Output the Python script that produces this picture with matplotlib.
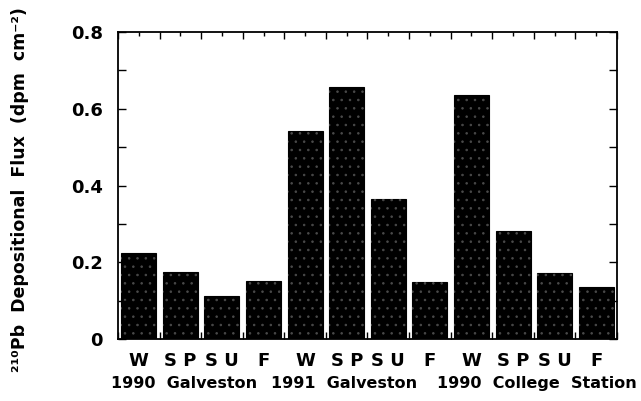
import matplotlib
matplotlib.use("Agg")
import matplotlib.pyplot as plt
import numpy as np

seasons = ["W", "S P", "S U", "F"] * 3
groups = ["1990  Galveston", "1991  Galveston", "1990  College  Station"]
flux = [0.224, 0.175, 0.112, 0.151,
        0.542, 0.656, 0.365, 0.149,
        0.636, 0.281, 0.172, 0.136]

plt.rcParams['font.family'] = 'DejaVu Sans'
plt.rcParams['font.weight'] = 'bold'
plt.rcParams['hatch.linewidth'] = 0.6

fig = plt.figure(figsize=(6.41, 4.01), dpi=100)
ax = fig.add_axes([0.184, 0.1546, 0.7786, 0.7656])

x = np.arange(len(flux))
ax.bar(x, flux, width=0.84, color='black', edgecolor='black', linewidth=0.8)
# sparse stipple on top of the black fill
ax.bar(x, flux, width=0.84, facecolor='none', edgecolor='#4a4a4a', hatch='..', linewidth=0)

ax.set_xlim(-0.5, 11.5)
ax.set_ylim(0, 0.8)
ax.set_yticks([0, 0.2, 0.4, 0.6, 0.8])
ax.set_yticklabels(["0", "0.2", "0.4", "0.6", "0.8"])
ax.set_yticks(np.arange(0.1, 0.8, 0.2), minor=True)
ax.tick_params(axis='y', which='both', direction='in', length=6, width=1,
               right=True, labelsize=13, pad=11)

ax.set_xticks(x)
ax.set_xticklabels(seasons, fontsize=13)
ax.set_xticks(np.arange(-0.5, 12, 1), minor=True)
ax.tick_params(axis='x', which='major', direction='in', length=3, width=1,
               top=True, bottom=False, pad=9)
ax.tick_params(axis='x', which='minor', direction='in', length=5, width=1, top=True)
for s in ax.spines.values():
    s.set_linewidth(1.3)

group_x = [1.1, 4.93, 9.58]
for gx, g in zip(group_x, groups):
    ax.text(gx, -0.115, g, ha='center', va='center', fontsize=11.5,
            fontweight='bold', transform=ax.transData)

fig.text(0.031, 0.527, "²¹⁰Pb  Depositional  Flux  (dpm  cm⁻²)", rotation=90,
         ha='center', va='center', fontsize=12.5, fontweight='bold')

fig.savefig("out.png", dpi=100)
